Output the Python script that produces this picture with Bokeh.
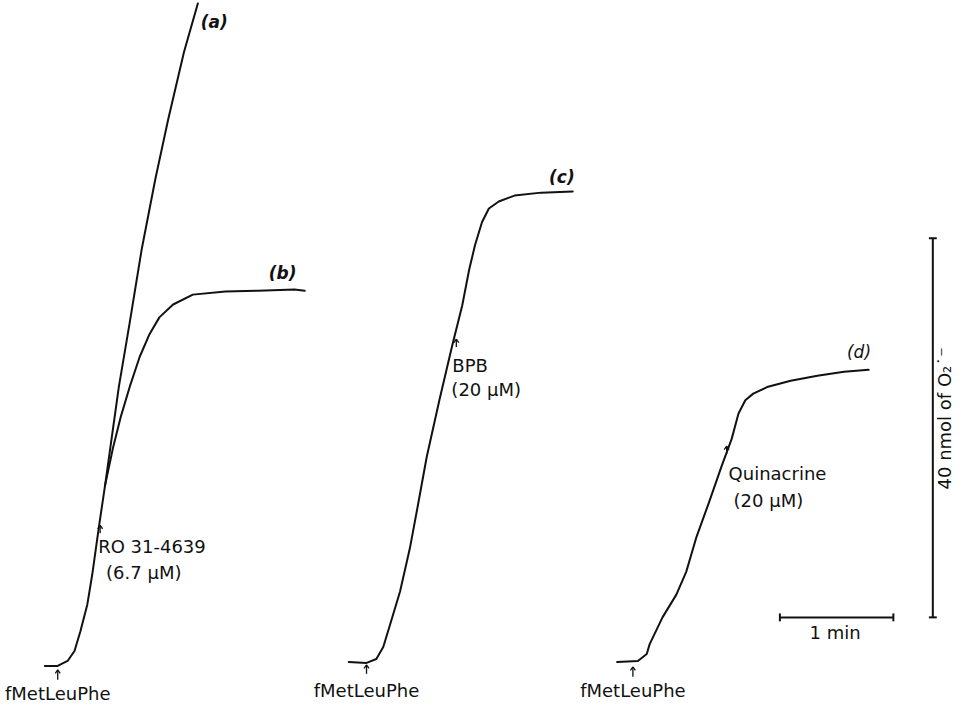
import math
from bokeh.plotting import figure
from bokeh.models import Range1d
from bokeh.embed import file_html
from bokeh.resources import INLINE
from bokeh.core.properties import value

# ---- data: superoxide generation traces (time in min from trace start, O2.- in nmol above baseline)
a_time = [0.0, 0.113, 0.200, 0.261, 0.313, 0.374, 0.417, 0.478, 0.530, 0.652, 0.748, 0.852, 0.974, 1.087, 1.226, 1.348]
a_o2   = [0.0, 0.0, 0.52, 1.57, 3.66, 6.48, 9.61, 14.83, 19.01, 29.45, 36.24, 43.86, 51.38, 57.65, 64.75, 69.87]

b_time = [0.530, 0.600, 0.670, 0.748, 0.835, 0.922, 1.009, 1.130, 1.304, 1.591, 1.878, 2.200, 2.290]
b_o2   = [19.01, 22.98, 26.32, 29.45, 32.58, 34.99, 36.76, 38.12, 39.16, 39.48, 39.58, 39.69, 39.58]

c_time = [0.0, 0.157, 0.243, 0.304, 0.365, 0.452, 0.539, 0.609, 0.687, 0.800, 0.913, 1.000, 1.061, 1.113, 1.174, 1.235, 1.322, 1.461, 1.696, 1.974]
c_o2   = [0.0, -0.10, 0.31, 1.57, 3.97, 7.42, 12.01, 16.50, 21.62, 27.68, 33.42, 37.60, 41.36, 43.97, 46.37, 47.83, 48.56, 49.19, 49.50, 49.61]

d_time = [0.0, 0.183, 0.261, 0.287, 0.400, 0.522, 0.609, 0.696, 0.809, 0.922, 1.009, 1.070, 1.130, 1.200, 1.330, 1.530, 1.765, 2.000, 2.217]
d_o2   = [0.0, 0.10, 0.84, 1.88, 4.70, 7.10, 9.50, 13.05, 16.81, 20.68, 23.50, 26.21, 27.60, 28.30, 29.03, 29.66, 30.18, 30.60, 30.81]

trace_labels = ["(a)", "(b)", "(c)", "(d)"]
scale_time_min = 1.0
scale_o2_nmol = 40.0
scale_time_label = "1 min"
scale_o2_label = "40 nmol of O\u2082\u02d9\u207b"
stim_label = "fMetLeuPhe"
inhib_labels = [("RO 31-4639", "(6.7 \u03bcM)"), ("BPB", "(20 \u03bcM)"), ("Quinacrine", "(20 \u03bcM)")]

# ---- layout helpers (page positions -> chart units)
PX_MIN = 115.0
PX_NMOL = 9.575
def X(px):
    return (px - 2) / PX_MIN
def Y(py):
    return (722 - py) / PX_NMOL

p = figure(width=956, height=705, output_backend="svg", toolbar_location=None,
           x_axis_location=None, y_axis_location=None,
           x_range=Range1d(0, 969 / PX_MIN), y_range=Range1d(0, 712 / PX_NMOL),
           min_border=0)
p.outline_line_color = None
p.background_fill_color = "white"
p.border_fill_color = "white"
for g in p.grid:
    g.visible = False

INK = "#111111"
LW = 2.0

def trace(t, v, x0, y0):
    p.line([x0 + ti for ti in t], [y0 + vi for vi in v], line_color=INK, line_width=LW,
           line_join="round", line_cap="round")

ax0, ay0 = X(47), Y(682)
cx0, cy0 = X(355), Y(678)
dx0, dy0 = X(627), Y(678)
trace(a_time, a_o2, ax0, ay0)
trace(b_time, b_o2, ax0, ay0)
trace(c_time, c_o2, cx0, cy0)
trace(d_time, d_o2, dx0, dy0)

# scale bars
hx, hy = X(792), Y(633)
p.line([hx, hx + scale_time_min], [hy, hy], line_color=INK, line_width=2)
cap_y = 4 / PX_NMOL
p.segment(x0=[hx, hx + scale_time_min], y0=[hy - cap_y] * 2, x1=[hx, hx + scale_time_min], y1=[hy + cap_y] * 2,
          line_color=INK, line_width=2)
vx, vy = X(947), Y(633)
p.line([vx, vx], [vy, vy + scale_o2_nmol], line_color=INK, line_width=2)
cap_x = 4 / PX_MIN
p.segment(x0=[vx - cap_x] * 2, y0=[vy, vy + scale_o2_nmol], x1=[vx + cap_x] * 2, y1=[vy, vy + scale_o2_nmol],
          line_color=INK, line_width=2)

FONT = value("DejaVu Sans")

def txt(px, py, s, size="18px", align="left", style="normal", angle=0.0, baseline="middle"):
    p.text(x=[X(px)], y=[Y(py)], text=[s], text_font=FONT, text_font_size=size,
           text_align=align, text_baseline=baseline, text_color=INK, text_font_style=style, angle=angle)

# trace labels
txt(205, 32, trace_labels[0], size="17px", style="bold italic")
txt(274, 285, trace_labels[1], size="17px", style="bold italic")
txt(558, 188, trace_labels[2], size="17px", style="bold italic")
txt(860, 365, trace_labels[3], size="17px", style="italic")

# inhibitor annotations
txt(101, 561, inhib_labels[0][0])
txt(109, 588, inhib_labels[0][1])
txt(460, 379, inhib_labels[1][0])
txt(459, 403, inhib_labels[1][1])
txt(740, 488, inhib_labels[2][0])
txt(745, 515, inhib_labels[2][1])

# stimulus labels
txt(60, 710, stim_label, align="center")
txt(373, 707, stim_label, align="center")
txt(643, 707, stim_label, align="center")

# small upward arrows (drawn, tip position in page px, length in px)
arrows = [(60, 686, 10), (373, 681, 9), (643, 683, 10), (103, 540, 8), (464, 352, 8), (738, 460, 8)]
sx0, sy0, sx1, sy1 = [], [], [], []
for (ax_, ay_, ln) in arrows:
    sx0.append(X(ax_)); sy0.append(Y(ay_)); sx1.append(X(ax_)); sy1.append(Y(ay_ + ln))
    for side in (-2.5, 2.5):
        sx0.append(X(ax_)); sy0.append(Y(ay_)); sx1.append(X(ax_ + side)); sy1.append(Y(ay_ + 3.5))
p.segment(x0=sx0, y0=sy0, x1=sx1, y1=sy1, line_color=INK, line_width=1.3)

# scale labels
txt(848, 648, scale_time_label, align="center")
txt(959, 432, scale_o2_label, size="18px", align="center", angle=math.pi / 2)

open("out.html", "w").write(file_html(p, INLINE))
